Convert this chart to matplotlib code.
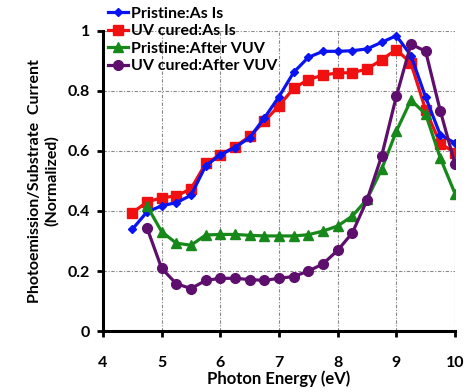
import matplotlib
matplotlib.use('Agg')
import matplotlib.pyplot as plt
import numpy as np

# 设置字体
plt.rcParams['font.family'] = ['Lato', 'DejaVu Sans']
plt.rcParams['font.weight'] = 'bold'

# 数据 (eV, normalized current)
energy = [4.5, 4.75, 5.0, 5.25, 5.5, 5.75, 6.0, 6.25, 6.5, 6.75, 7.0, 7.25, 7.5,
          7.75, 8.0, 8.25, 8.5, 8.75, 9.0, 9.25, 9.5, 9.75, 10.0]
pristine_as_is = [0.339, 0.397, 0.417, 0.428, 0.452, 0.55, 0.587, 0.611, 0.644, 0.709,
                  0.78, 0.861, 0.911, 0.931, 0.931, 0.933, 0.939, 0.961, 0.983, 0.917,
                  0.778, 0.653, 0.626]
uv_as_is = [0.394, 0.43, 0.444, 0.45, 0.474, 0.558, 0.587, 0.614, 0.648, 0.698,
            0.75, 0.808, 0.837, 0.852, 0.859, 0.86, 0.872, 0.903, 0.937, 0.891,
            0.736, 0.624, 0.594]
energy_vuv = energy[1:]
pristine_vuv = [0.417, 0.331, 0.293, 0.286, 0.32, 0.322, 0.322, 0.319, 0.317, 0.317,
                0.317, 0.321, 0.333, 0.35, 0.383, 0.439, 0.539, 0.665, 0.769, 0.722,
                0.576, 0.458]
uv_vuv = [0.344, 0.209, 0.158, 0.142, 0.169, 0.176, 0.176, 0.172, 0.169, 0.176,
          0.182, 0.2, 0.224, 0.269, 0.327, 0.436, 0.583, 0.781, 0.955, 0.931,
          0.733, 0.556]

xticks = [4, 5, 6, 7, 8, 9, 10]
yticks = [0, 0.2, 0.4, 0.6, 0.8, 1]
ytick_labels = ['0', '0.2', '0.4', '0.6', '0.8', '1']

fig = plt.figure(figsize=(4.69, 3.92), dpi=100)
ax = fig.add_axes([0.2196, 0.155, 0.7505, 0.767])

ax.plot(energy, pristine_as_is, color='#0a14f0', lw=2.3, marker='D', ms=4.5,
        label='Pristine:As Is', zorder=3)
ax.plot(energy, uv_as_is, color='#f01010', lw=2.3, marker='s', ms=7,
        label='UV cured:As Is', zorder=2)
ax.plot(energy_vuv, pristine_vuv, color='#17881a', lw=2.3, marker='^', ms=6.5,
        label='Pristine:After VUV', zorder=3)
ax.plot(energy_vuv, uv_vuv, color='#5e0f6e', lw=2.3, marker='o', ms=7,
        label='UV cured:After VUV', zorder=3)

ax.set_xlim(4, 10)
ax.set_ylim(0, 1)
ax.set_xticks(xticks)
ax.set_yticks(yticks)
ax.set_yticklabels(ytick_labels)

# 网格线
ax.grid(True, color='#888888', linestyle=(0, (3, 1.5, 1, 1.5)), linewidth=0.8)
ax.set_axisbelow(True)

for s in ['top', 'right']:
    ax.spines[s].set_visible(False)
for s in ['left', 'bottom']:
    ax.spines[s].set_linewidth(2.2)

ax.tick_params(axis='both', direction='out', width=2, length=4.5, labelsize=11.5)
ax.tick_params(axis='x', pad=13)
ax.tick_params(axis='y', pad=5)
for lab in ax.get_xticklabels() + ax.get_yticklabels():
    lab.set_fontweight('bold')

ax.set_xlabel('Photon Energy (eV)', fontsize=12, fontweight='bold', labelpad=0.5)
ax.set_ylabel('Photoemission/Substrate  Current\n(Normalized)', fontsize=11.5,
              fontweight='bold', labelpad=6)

leg = ax.legend(loc='upper left', bbox_to_anchor=(-0.005, 1.1), frameon=False,
                prop={'weight': 'bold', 'size': 11.5}, handlelength=1.3,
                handletextpad=0.15, labelspacing=0.2, borderaxespad=0)

fig.savefig('out.png', dpi=100)
